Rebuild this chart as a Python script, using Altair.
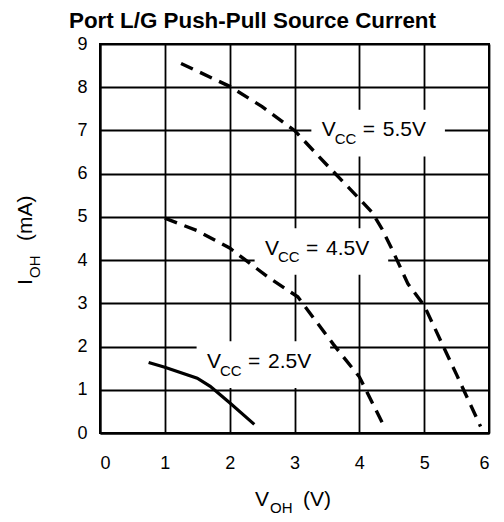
import altair as alt
import pandas as pd

# ---- data ----
v55_x = [1.25, 2.0, 2.5, 3.0, 3.5, 4.0, 4.2, 4.35, 4.52, 4.75, 5.0, 5.5, 5.87]
v55_y = [8.55, 8.02, 7.55, 7.0, 6.2, 5.42, 5.1, 4.72, 4.2, 3.45, 2.95, 1.35, 0.15]

v45_x = [1.0, 1.5, 2.0, 2.2, 2.6, 3.05, 3.6, 4.0, 4.35]
v45_y = [4.97, 4.68, 4.28, 4.05, 3.6, 3.15, 2.05, 1.3, 0.25]

v25_x = [0.75, 1.0, 1.5, 1.7, 2.0, 2.38]
v25_y = [1.63, 1.52, 1.27, 1.08, 0.7, 0.2]

label_vcc = ["5.5V", "4.5V", "2.5V"]
label_x = [3.42, 2.545, 1.65]
label_y = [6.86, 4.12, 1.50]

x_ticks = [0, 1, 2, 3, 4, 5, 6]
y_ticks = [0, 1, 2, 3, 4, 5, 6, 7, 8, 9]

FONT = "Liberation Sans"

rows = []
for name, xs_, ys_ in [("5.5V", v55_x, v55_y), ("4.5V", v45_x, v45_y), ("2.5V", v25_x, v25_y)]:
    for i, (a, b) in enumerate(zip(xs_, ys_)):
        rows.append({"series": name, "x": a, "y": b, "idx": i})
curves = pd.DataFrame(rows)

labels = pd.DataFrame({"vcc": label_vcc, "x": label_x, "y": label_y})
labels["x0"] = labels["x"] - 0.16
labels["x1"] = labels["x"] + 1.9
labels["y0"] = labels["y"] - 0.46
labels["y1"] = labels["y"] + 0.62
labels["v"] = "V"
labels["cc"] = "CC"
labels["eq"] = "="

xs = alt.Scale(domain=[0, 6], nice=False)
ys = alt.Scale(domain=[0, 9], nice=False)

x_axis = alt.Axis(values=x_ticks, title=None, labelPadding=21)
y_axis = alt.Axis(values=y_ticks, title=None, labelPadding=13)
X = alt.X("x:Q", scale=xs, axis=x_axis)
Y = alt.Y("y:Q", scale=ys, axis=y_axis)

boxes = alt.Chart(labels).mark_rect(fill="white").encode(
    x=alt.X("x0:Q", scale=xs, axis=x_axis),
    x2="x1:Q",
    y=alt.Y("y0:Q", scale=ys, axis=y_axis),
    y2="y1:Q",
)

dashed = alt.Chart(curves[curves["series"] != "2.5V"]).mark_line(
    color="black", strokeWidth=3.4, strokeDash=[13, 8], strokeCap="butt"
).encode(x=X, y=Y, detail="series:N", order="idx:Q")

solid = alt.Chart(curves[curves["series"] == "2.5V"]).mark_line(
    color="black", strokeWidth=3.2
).encode(x=X, y=Y, order="idx:Q")

def piece(field, size, dx, dy=0):
    return alt.Chart(labels).mark_text(
        font=FONT, fontSize=size, align="left", baseline="alphabetic",
        dx=dx, dy=dy, color="black"
    ).encode(x=X, y=Y, text=f"{field}:N")

t_v = piece("v", 21, 0)
t_cc = piece("cc", 15, 13, 7.5)
t_eq = piece("eq", 21, 41)
t_val = piece("vcc", 21, 61)

def free_text(txt, size, px, py, angle=0):
    return alt.Chart(pd.DataFrame({"t": [txt]})).mark_text(
        font=FONT, fontSize=size, align="left", baseline="alphabetic",
        angle=angle, color="black"
    ).encode(x=alt.value(px), y=alt.value(py), text="t:N")

# x axis title  V_OH (V)
xt1 = free_text("V", 21, 155, 461.5)
xt2 = free_text("OH", 15, 170, 468.5)
xt3 = free_text("(V)", 21, 203, 461.5)
# y axis title  I_OH (mA)
yt1 = free_text("I", 21, -68, 241, 270)
yt2 = free_text("OH", 15, -60, 234, 270)
yt3 = free_text("(mA)", 21, -68, 197, 270)

chart = alt.layer(
    boxes, dashed, solid, t_v, t_cc, t_eq, t_val, xt1, xt2, xt3, yt1, yt2, yt3
).properties(
    width=389,
    height=389,
    padding={"left": 92, "top": 36, "right": 7, "bottom": 81},
    autosize=alt.AutoSizeParams(type="none"),
    title=alt.TitleParams(
        "Port L/G Push-Pull Source Current",
        font=FONT, fontSize=22.4, fontWeight="bold", color="black",
        anchor="middle", dx=-42, offset=3,
    ),
).configure_axis(
    grid=True, gridColor="black", gridWidth=1.8, gridOpacity=1,
    domainColor="black", domainWidth=2, ticks=False, tickSize=0,
    labelFont=FONT, labelFontSize=18, labelColor="black",
).configure_view(
    stroke="black", strokeWidth=2
)

chart.save("out.html", embed_options={"renderer": "svg", "actions": False})
